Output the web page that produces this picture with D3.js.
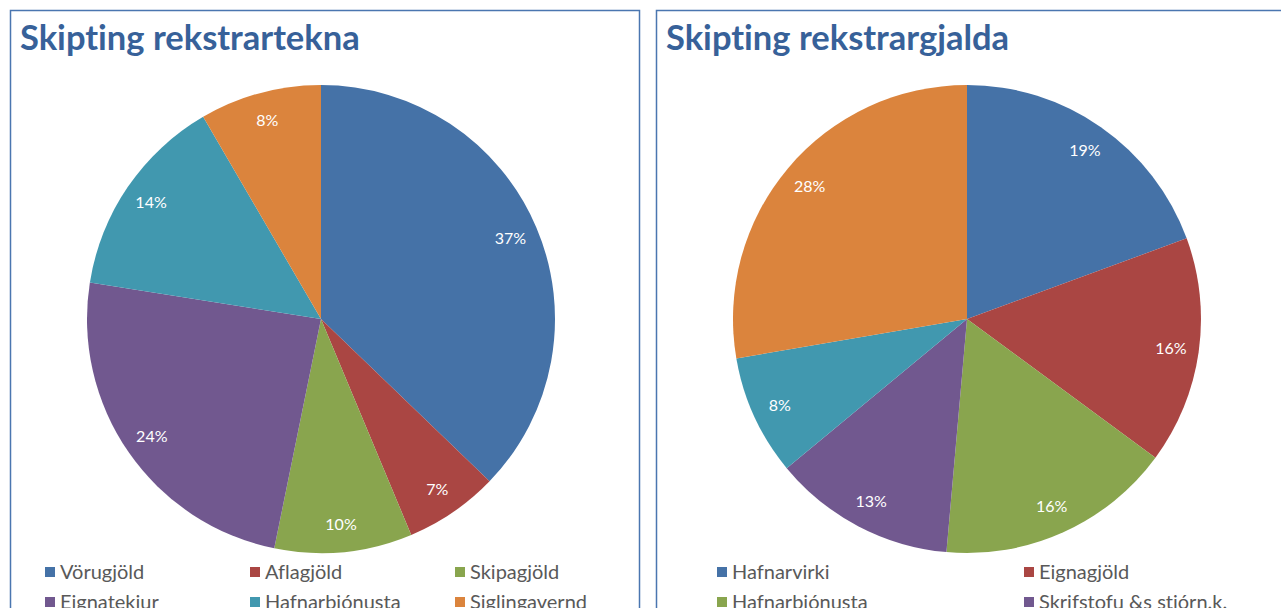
<!DOCTYPE html>
<html><head><meta charset="utf-8">
<script src="https://cdn.jsdelivr.net/npm/d3@7"></script>
<style>html,body{margin:0;padding:0;background:#fff;overflow:hidden} text{font-variant-ligatures:none;font-feature-settings:"liga" 0}</style>
</head><body><svg id="c" width="1281" height="608"></svg>
<script>
const revenueCategories = ["Vörugjöld","Aflagjöld","Skipagjöld","Eignatekjur","Hafnarþjónusta","Siglingavernd"];
const revenueValues = [37.2, 6.5, 9.5, 24.3, 14.1, 8.4];
const costCategories = ["Hafnarvirki","Eignagjöld","Hafnarþjónusta","Skrifstofu &s stjórn.k.","Viðhald","Annar kostnaður"];
const costValues = [19.4, 15.7, 16.3, 12.6, 8.3, 27.7];
const titles = ["Skipting rekstrartekna","Skipting rekstrargjalda"];
const palette = ["#4572A7","#AA4643","#89A54E","#71588F","#4198AF","#DB843D"];

const svg = d3.select("#c");
const fmt = d3.format(".0%");

function panel(x0, width, title, cats, vals, legendCols) {
  const g = svg.append("g").attr("transform", `translate(${x0},10)`);
  g.append("rect").attr("x",0.5).attr("y",0.5).attr("width",width).attr("height",640)
    .attr("fill","#fff").attr("stroke","#4A76B0").attr("stroke-width",1.5);
  g.append("text").attr("x",10).attr("y",40).text(title)
    .attr("font-family","Lato, 'Open Sans', sans-serif").attr("font-weight","bold")
    .attr("font-size",34.5).attr("fill","#376199");
  const cx = 311, cy = 309, r = 234;
  const pie = d3.pie().sort(null).value(d => d.v);
  const data = pie(cats.map((c,i) => ({c, v: vals[i], i})));
  const arc = d3.arc().innerRadius(0).outerRadius(r);
  const labelArc = d3.arc().innerRadius(r*0.88).outerRadius(r*0.88);
  const color = d3.scaleOrdinal().domain(cats).range(palette);
  const pg = g.append("g").attr("transform", `translate(${cx},${cy})`);
  pg.selectAll("path").data(data).join("path").attr("d", arc).attr("fill", d => color(d.data.c));
  pg.selectAll("text").data(data).join("text")
    .attr("transform", d => { const [x,y] = labelArc.centroid(d); return `translate(${x},${y})`; })
    .attr("text-anchor","middle").attr("dy","0.35em")
    .attr("font-family","Lato, 'Open Sans', sans-serif").attr("font-size",16).attr("fill","#fff")
    .text(d => fmt(Math.round(d.data.v)/100));
  const colX = legendCols;
  const lg = g.selectAll("g.leg").data(cats).join("g").attr("class","leg")
    .attr("transform", (d,i) => `translate(${colX[i % colX.length]},${557 + Math.floor(i/colX.length)*30})`);
  lg.append("rect").attr("x",0).attr("y",0).attr("width",10).attr("height",10).attr("fill", d => color(d));
  lg.append("text").attr("x",15).attr("y",12).text(d => d)
    .attr("font-family","Lato, 'Open Sans', sans-serif").attr("font-size",20).attr("fill","#595959");
}
panel(10, 629, titles[0], revenueCategories, revenueValues, [35, 240, 445]);
panel(656, 640, titles[1], costCategories, costValues, [61, 368]);
</script></body></html>
